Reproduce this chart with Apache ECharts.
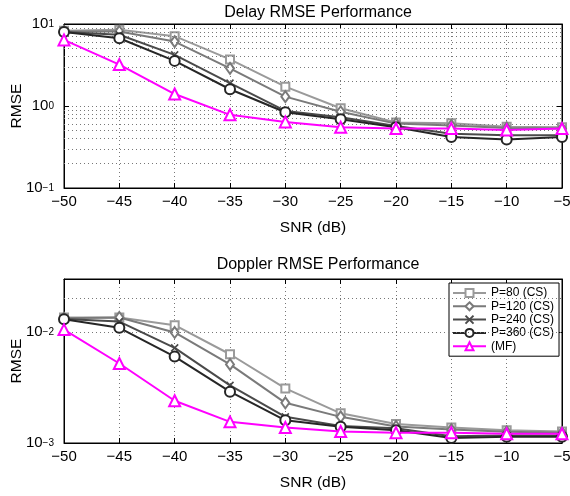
<!DOCTYPE html>
<html>
<head>
<meta charset="utf-8">
<script src="https://cdn.jsdelivr.net/npm/echarts@6/dist/echarts.min.js"></script>
<style>
html,body{margin:0;padding:0;background:#fff;}
#chart{width:570px;height:496px;}
</style>
</head>
<body>
<div id="chart"></div>
<script>
// ---- data ----
const snr = [-50, -45, -40, -35, -30, -25, -20, -15, -10, -5];
const seriesNames = ['P=80 (CS)', 'P=120 (CS)', 'P=240 (CS)', 'P=360 (CS)', '(MF)'];

const delayP80  = [8.3, 8.5, 7.1, 3.7, 1.72, 0.94, 0.63, 0.615, 0.56, 0.55];
const delayP120 = [8.1, 8.1, 6.1, 2.88, 1.3, 0.85, 0.61, 0.58, 0.54, 0.53];
const delayP240 = [8.0, 7.4, 4.2, 1.9, 0.87, 0.73, 0.57, 0.46, 0.44, 0.44];
const delayP360 = [8.0, 6.7, 3.55, 1.6, 0.84, 0.69, 0.55, 0.42, 0.39, 0.42];
const delayMF   = [6.4, 3.2, 1.4, 0.78, 0.64, 0.55, 0.53, 0.53, 0.51, 0.53];

const dopP80  = [0.0135, 0.0135, 0.0115, 0.0063, 0.0031, 0.00185, 0.00148, 0.00138, 0.0013, 0.00127];
const dopP120 = [0.0133, 0.0135, 0.0099, 0.0051, 0.0023, 0.00172, 0.00141, 0.00132, 0.00126, 0.00124];
const dopP240 = [0.0131, 0.0124, 0.0072, 0.0033, 0.00172, 0.00142, 0.00136, 0.00115, 0.00117, 0.00117];
const dopP360 = [0.013, 0.0109, 0.006, 0.0029, 0.0016, 0.0014, 0.0013, 0.00111, 0.00114, 0.00114];
const dopMF   = [0.0105, 0.0052, 0.0024, 0.00155, 0.00138, 0.00127, 0.00124, 0.00124, 0.00121, 0.00121];

// minor grid values (log axis, MATLAB style)
const delayMinor = [0.2,0.3,0.4,0.5,0.6,0.7,0.8,0.9,2,3,4,5,6,7,8,9];
const dopMinor = [0.002,0.003,0.004,0.005,0.006,0.007,0.008,0.009,0.02];

// ---- styles ----
const FONT = '"Liberation Sans", Arial, Helvetica, sans-serif';
const colors = ['#9a9a9a', '#7a7a7a', '#4a4a4a', '#262626', '#ff00ff'];
const symbols = ['emptyRect', 'emptyDiamond', 'path://M0,0L10,10M10,0L0,10', 'emptyCircle', 'emptyTriangle'];
const symSizes = [8, [8, 11], 7, 10, 11];

function fmtNum(v) { return String(v).replace('-', '\u2212'); }
function fmtPow(v) {
  const l = Math.log10(v);
  const e = Math.round(l);
  if (Math.abs(l - e) > 1e-6) return '';
  return '{b|10}{s|' + (e < 0 ? '\u2212' + (-e) : String(e)) + '}';
}

const grids = [
  {left: 64, right: 8, top: 24, height: 164, show: true, borderColor: '#000', borderWidth: 1,
   backgroundColor: 'transparent', containLabel: false, outerBoundsMode: 'none'},
  {left: 64, right: 8, top: 279, height: 164, show: true, borderColor: '#000', borderWidth: 1,
   backgroundColor: 'transparent', containLabel: false, outerBoundsMode: 'none'}
];

function xAxisMain(gi) {
  return {
    type: 'value', gridIndex: gi, min: -50, max: -5, interval: 5,
    name: 'SNR (dB)', nameLocation: 'middle', nameGap: 32, nameMoveOverlap: false,
    nameTextStyle: {fontFamily: FONT, fontSize: 15.5, color: '#000'},
    axisLine: {onZero: false, lineStyle: {color: '#000', width: 1}},
    axisTick: {inside: true, length: 5, lineStyle: {color: '#000'}},
    axisLabel: {fontFamily: FONT, fontSize: 15, color: '#000', margin: 6, formatter: fmtNum},
    splitLine: {show: true, lineStyle: {type: [1, 3], color: '#777', width: 1}}
  };
}
function xAxisTop(gi) {
  return {
    type: 'value', gridIndex: gi, position: 'top', min: -50, max: -5, interval: 5,
    axisLine: {onZero: false, lineStyle: {color: '#000', width: 1}},
    axisTick: {inside: true, length: 5, lineStyle: {color: '#000'}},
    axisLabel: {show: false}, splitLine: {show: false}
  };
}
function yAxisMain(gi, mn, mx) {
  return {
    type: 'log', logBase: 10, gridIndex: gi, min: mn, max: mx,
    name: 'RMSE', nameLocation: 'middle', nameGap: 39, nameRotate: 90, nameMoveOverlap: false,
    nameTextStyle: {fontFamily: FONT, fontSize: 15.5, color: '#000'},
    axisLine: {onZero: false, lineStyle: {color: '#000', width: 1}},
    axisTick: {inside: true, length: 5, lineStyle: {color: '#000'}},
    axisLabel: {
      fontFamily: FONT, fontSize: 15, color: '#000', margin: 10, formatter: fmtPow,
      rich: {
        b: {fontFamily: FONT, fontSize: 15, color: '#000', verticalAlign: 'bottom', lineHeight: 15, padding: [5, 0, 0, 0]},
        s: {fontFamily: FONT, fontSize: 10, color: '#000', verticalAlign: 'top', lineHeight: 10, padding: [3, 0, 0, 0]}
      }
    },
    splitLine: {show: true, lineStyle: {type: [1, 3], color: '#777', width: 1}}
  };
}
function yAxisRight(gi, mn, mx) {
  return {
    type: 'log', logBase: 10, gridIndex: gi, position: 'right', min: mn, max: mx,
    axisLine: {onZero: false, lineStyle: {color: '#000', width: 1}},
    axisTick: {inside: true, length: 5, lineStyle: {color: '#000'}},
    axisLabel: {show: false}, splitLine: {show: false}
  };
}

function makeSeries(gi, arrays, minor) {
  return arrays.map((arr, i) => {
    const s = {
      name: seriesNames[i], type: 'line',
      xAxisIndex: gi * 2, yAxisIndex: gi * 2,
      data: snr.map((x, k) => [x, arr[k]]),
      symbol: symbols[i], symbolSize: symSizes[i],
      showAllSymbol: true,
      lineStyle: {color: colors[i], width: 2},
      itemStyle: {color: i === 2 ? 'transparent' : colors[i], borderColor: colors[i], borderWidth: 1.6},
      z: 3 + i, animation: false
    };
    if (i === 0) {
      s.markLine = {
        silent: true, symbol: ['none', 'none'], label: {show: false},
        lineStyle: {type: [1, 3], color: '#777', width: 1},
        emphasis: {disabled: true},
        data: minor.map(v => ({yAxis: v}))
      };
    }
    return s;
  });
}

const chart = echarts.init(document.getElementById('chart'), null, {renderer: 'canvas'});
chart.setOption({
  backgroundColor: '#fff',
  animation: false,
  title: [
    {text: 'Delay RMSE Performance', left: 313, top: 0, textAlign: 'center',
     textStyle: {fontFamily: FONT, fontSize: 16, fontWeight: 'normal', color: '#000'}},
    {text: 'Doppler RMSE Performance', left: 313, top: 252, textAlign: 'center',
     textStyle: {fontFamily: FONT, fontSize: 16, fontWeight: 'normal', color: '#000'}}
  ],
  legend: {
    data: seriesNames, orient: 'vertical', left: 449, top: 283,
    backgroundColor: '#fff', borderColor: '#000', borderWidth: 1,
    padding: [4, 5, 4, 3], itemGap: 1.3, itemWidth: 33, itemHeight: 10,
    textStyle: {fontFamily: FONT, fontSize: 12, lineHeight: 12, color: '#000'},
    selectedMode: false
  },
  grid: grids,
  xAxis: [xAxisMain(0), xAxisTop(0), xAxisMain(1), xAxisTop(1)],
  yAxis: [yAxisMain(0, 0.1, 10), yAxisRight(0, 0.1, 10), yAxisMain(1, 0.001, 0.03), yAxisRight(1, 0.001, 0.03)],
  series: [].concat(
    makeSeries(0, [delayP80, delayP120, delayP240, delayP360, delayMF], delayMinor),
    makeSeries(1, [dopP80, dopP120, dopP240, dopP360, dopMF], dopMinor)
  )
});
</script>
</body>
</html>
